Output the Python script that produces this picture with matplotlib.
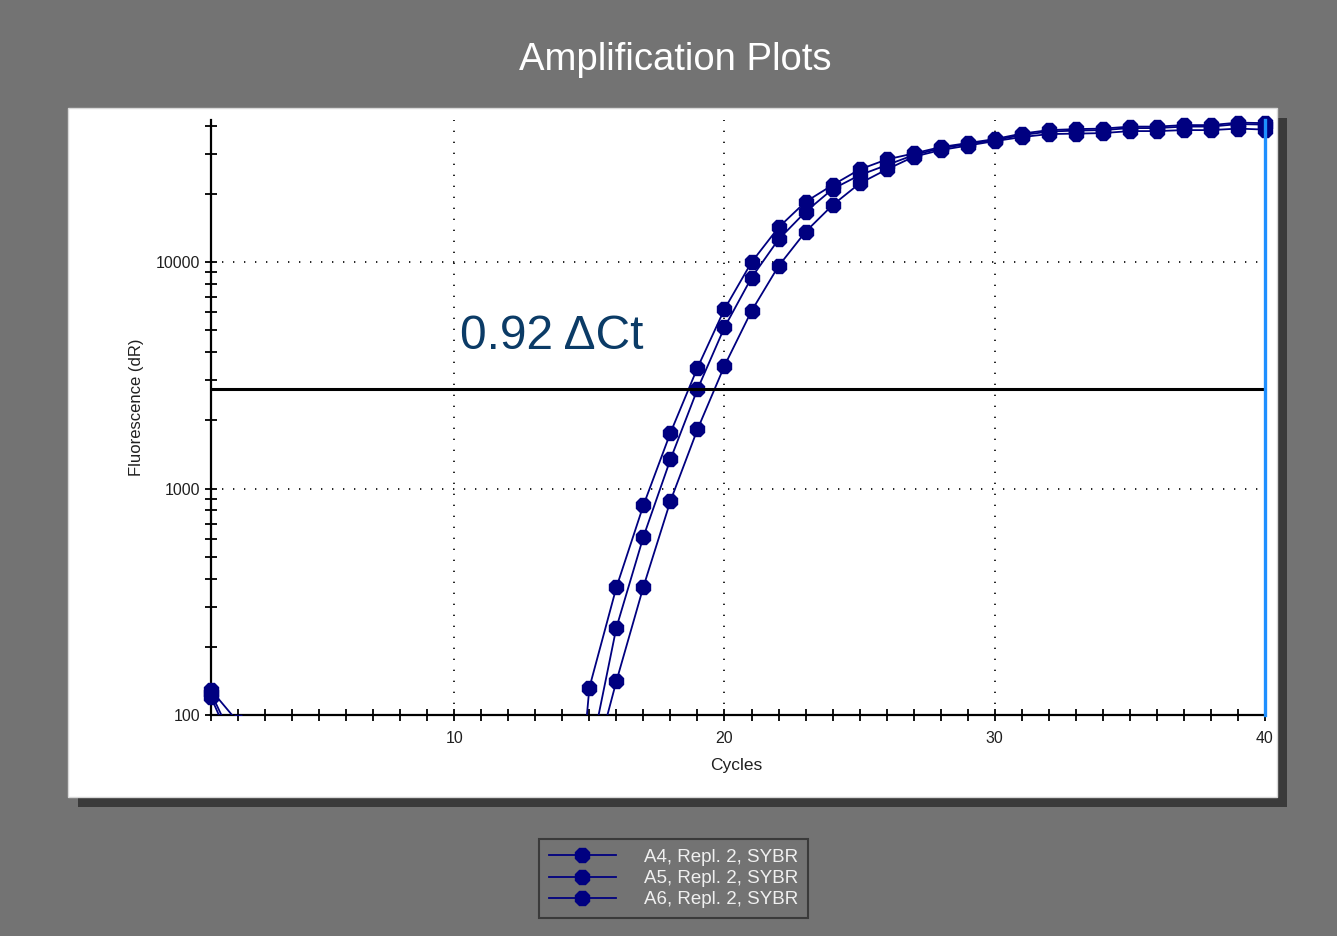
import matplotlib
matplotlib.use('Agg')
import matplotlib.pyplot as plt
from matplotlib.patches import Rectangle
from matplotlib.ticker import NullFormatter

plt.rcParams['font.family'] = ['Liberation Sans', 'DejaVu Sans']

cycles = list(range(1, 41))
a4 = [129, 93, 45, 30, 22, 18, 15, 12, 10, 9, 8, 7, 7, 6, 132, 366, 843, 1762, 3411, 6195,
      9980, 14220, 18450, 21880, 25640, 28380, 30170, 32190, 33530, 34910,
      36920, 38260, 38650, 38850, 39650, 39650, 40260, 40260, 41290, 41080]
a5 = [125, 70, 40, 28, 20, 16, 13, 11, 10, 9, 8, 7, 6, 6, 63, 243, 612, 1345, 2743, 5150,
      8530, 12590, 16670, 21010, 24200, 26800, 29680, 31770, 33190, 34560,
      36370, 37690, 38070, 38260, 39050, 39050, 39650, 39650, 40670, 40470]
a6 = [120, 64, 38, 26, 19, 15, 12, 10, 9, 8, 7, 7, 6, 5, 50, 141, 368, 881, 1824, 3484,
      6080, 9600, 13610, 17850, 22240, 25640, 29170, 31230, 32690, 34210,
      35640, 36740, 36920, 37110, 37880, 37880, 38260, 38260, 38850, 38460]
labels = ['A4, Repl. 2, SYBR', 'A5, Repl. 2, SYBR', 'A6, Repl. 2, SYBR']
threshold = 2750
delta_ct = '0.92 \u0394Ct'

W, H = 1337, 936
bg = '#737373'
navy = '#000080'

fig = plt.figure(figsize=(W / 100, H / 100), dpi=100, facecolor=bg)

# panel with shadow
fig.patches.append(Rectangle((78 / W, 1 - 807 / H), 1209 / W, 689 / H,
                             transform=fig.transFigure, facecolor='#3a3a3a',
                             edgecolor='none', zorder=-2))
fig.patches.append(Rectangle((68 / W, 1 - 797 / H), 1209 / W, 689 / H,
                             transform=fig.transFigure, facecolor='white',
                             edgecolor='#d8d8d8', linewidth=1, zorder=-1))

fig.text(675 / W, 1 - 60 / H, 'Amplification Plots', ha='center', va='center',
         color='white', fontsize=27.5)

ax = fig.add_axes([211 / W, 1 - 715 / H, 1054 / W, 595 / H])
ax.set_zorder(1)
ax.set_facecolor('white')

clip = Rectangle((-0.02, 0), 1.04, 1.06, transform=ax.transAxes)
handles = []
for vals, lab in zip([a4, a5, a6], labels):
    ln, = ax.plot(cycles, vals, color=navy, lw=1.3, marker='8', ms=10.5,
                  mfc=navy, mec=navy, label=lab, zorder=3)
    ln.set_clip_path(clip)
    handles.append(ln)

ax.set_yscale('log')
ax.set_xlim(1, 40)
ax.set_ylim(100, 42400)

ax.set_xticks([10, 20, 30, 40])
ax.set_xticks(cycles, minor=True)
ax.set_yticks([100, 1000, 10000])
ax.set_yticklabels(['100', '1000', '10000'])
minors = [m * d for d in (100, 1000) for m in range(2, 10)] + [20000, 30000, 40000]
ax.set_yticks(minors, minor=True)
ax.yaxis.set_minor_formatter(NullFormatter())

ax.tick_params(axis='x', which='both', direction='inout', length=9, width=1.3,
               pad=7, labelsize=11.4, labelcolor='#202020')
ax.tick_params(axis='y', which='both', direction='inout', length=8, width=1.3,
               pad=3.6, labelsize=11.4, labelcolor='#202020')

for s in ['top', 'right']:
    ax.spines[s].set_visible(False)
for s in ['left', 'bottom']:
    ax.spines[s].set_linewidth(1.6)

ax.grid(True, which='major', color='black', linestyle=(0, (0.8, 5.8)), linewidth=1.2)

ax.axhline(threshold, color='black', lw=2.2, zorder=4)
ax.axvline(40, color='#1e8fff', lw=2.4, zorder=5, clip_on=False)

ax.text(10.2, 4130, delta_ct, fontsize=34.5, color='#0b3b66', ha='left', va='baseline')

ax.set_xlabel('Cycles', fontsize=12.5, color='#202020')
ax.xaxis.set_label_coords(0.498, -0.073)
ax.set_ylabel('Fluorescence (dR)', fontsize=12, color='#202020')
ax.yaxis.set_label_coords(-0.064, 0.518)

leg = fig.legend(handles=handles, loc='center', bbox_to_anchor=(673.5 / W, 1 - 878.5 / H),
                 fontsize=13.5, frameon=True, fancybox=False, facecolor=bg,
                 edgecolor='#3a3a3a', framealpha=1, handlelength=3.6,
                 handletextpad=1.5, labelspacing=0.22, borderpad=0.5)
leg.get_frame().set_linewidth(1.5)
for t in leg.get_texts():
    t.set_color('#f0f0f0')

fig.savefig('out.png', dpi=100, facecolor=bg)
